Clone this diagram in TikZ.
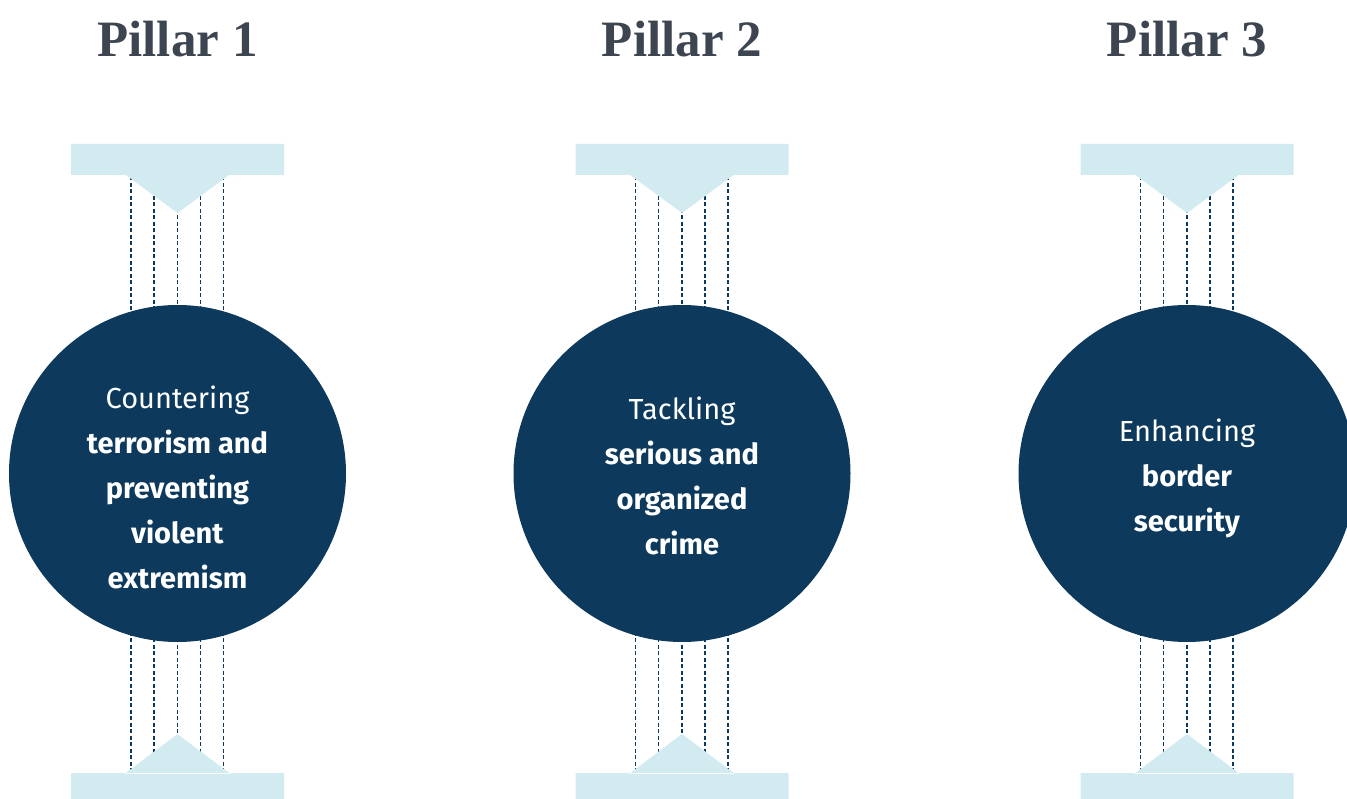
\documentclass[tikz,border=0pt]{standalone}
\usepackage{fontspec}
\setmainfont{Fira Sans}
\newfontfamily\titlefont{Liberation Serif}
\usetikzlibrary{positioning,backgrounds}
\definecolor{navy}{HTML}{0D3A5C}
\definecolor{pale}{HTML}{D1EBF0}
\definecolor{slate}{HTML}{3D4650}

\begin{document}
\begin{tikzpicture}[x=1pt,y=-1pt]
  \tikzstyle{pillar}=[circle,fill=navy,minimum size=337pt,inner sep=0pt]
  \tikzstyle{title}=[text=slate,font=\titlefont\bfseries\fontsize{51}{51}\selectfont]
  \tikzstyle{aim}=[text=white,align=center,font=\fontsize{29}{45}\selectfont]
  \tikzstyle{bar}=[fill=pale]
  \tikzstyle{guide}=[navy,line width=1.3pt,dash pattern=on 4pt off 2.5pt]

  \useasboundingbox (0,0) rectangle (1347,799);
  \clip (0,0) rectangle (1347,799);

  \foreach \n/\cx in {1/177.5,2/682,3/1187} {
    % anchors of the guide lines
    \coordinate (top\n) at (\cx,144);
    \coordinate (bot\n) at (\cx,799);
    \begin{pgfonlayer}{background}
      \foreach \dx in {-46.5,-23.5,0,23,46}
        \draw [guide] ([xshift=\dx pt]top\n) -- ([xshift=\dx pt]bot\n);
    \end{pgfonlayer}
    % top and bottom bars
    \fill [bar] (\cx-106.5,144) rectangle (\cx+106.5,175)
      (\cx-53,174) -- (\cx,213) -- (\cx+53,174) -- cycle;
    \fill [bar] (\cx-106.5,773) rectangle (\cx+106.5,799)
      (\cx-53,774) -- (\cx,734) -- (\cx+53,774) -- cycle;
    \node [pillar] (C\n) at (\cx,473.5) {};
    \node [title] (T\n) at (\cx,39) {Pillar \n};
  }

  \node [aim] (A1) at (C1.center) [yshift=-14pt]
    {Countering\\\textbf{terrorism and}\\\textbf{preventing}\\\textbf{violent}\\\textbf{extremism}};
  \node [aim] (A2) at (C2.center) [yshift=-2pt]
    {Tackling\\\textbf{serious and}\\\textbf{organized}\\\textbf{crime}};
  \node [aim] (A3) at (C3.center) [yshift=-5pt]
    {Enhancing\\\textbf{border}\\\textbf{security}};
\end{tikzpicture}
\end{document}
